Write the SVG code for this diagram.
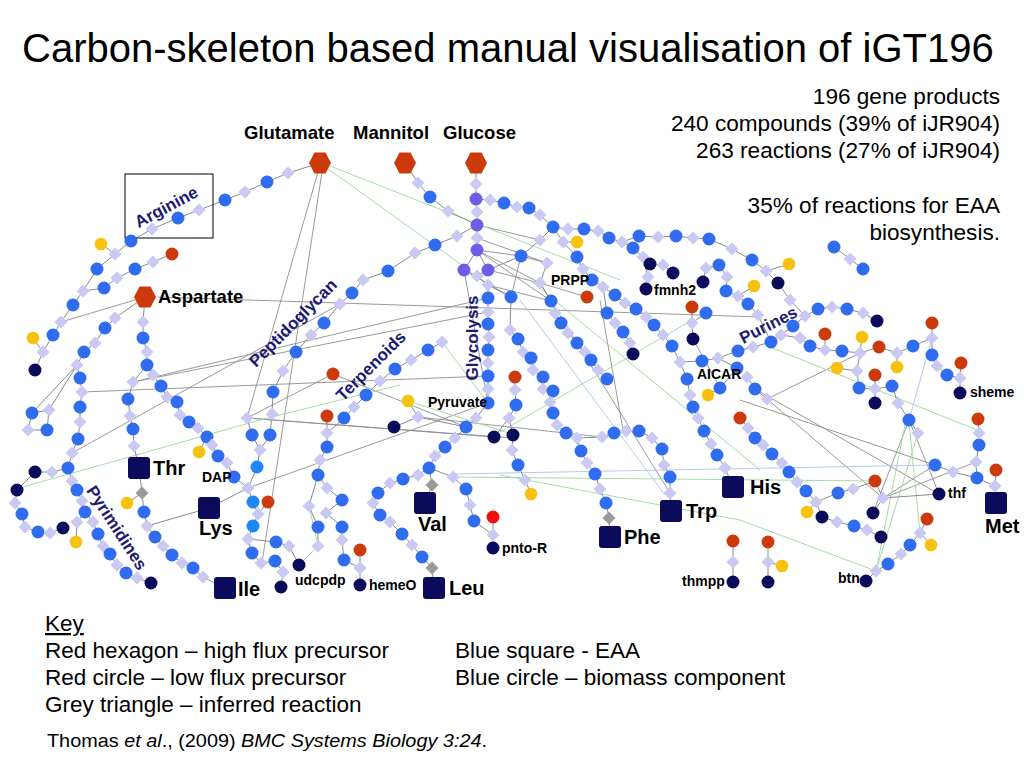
<svg xmlns="http://www.w3.org/2000/svg" xmlns:xlink="http://www.w3.org/1999/xlink" width="1024" height="768" viewBox="0 0 1024 768">
<style>
.c{fill:none;stroke:#8a8a8a;stroke-width:1}
.x{fill:none;stroke:#8f8f8f;stroke-width:0.9}
.gr{fill:none;stroke:#a6dba6;stroke-width:1}
.lb{fill:none;stroke:#b4c9ef;stroke-width:1}
.t{font-family:"Liberation Sans",Arial,sans-serif;fill:#000}
.lb1{font-family:"Liberation Sans",Arial,sans-serif;font-weight:bold;font-size:18.5px;fill:#000}
.aa{font-family:"Liberation Sans",Arial,sans-serif;font-weight:bold;font-size:20px;fill:#000}
.sm{font-family:"Liberation Sans",Arial,sans-serif;font-weight:bold;font-size:14px;fill:#000}
.pw{font-family:"Liberation Sans",Arial,sans-serif;font-weight:bold;font-size:17px;fill:#1b1b72;text-anchor:middle}
</style>
<defs>
<circle id="B" r="6.5" fill="#2f6cf0"/>
<circle id="L" r="6.5" fill="#1f86f6"/>
<circle id="N" r="6.5" fill="#0b0b5c"/>
<circle id="Y" r="6.3" fill="#f6c20e"/>
<circle id="R" r="6.5" fill="#cc3a0c"/>
<circle id="R2" r="6.5" fill="#f01010"/>
<circle id="P" r="6.5" fill="#6e5ee6"/>
<path id="D" d="M0-6.5L6.5 0 0 6.5-6.5 0Z" fill="#c9c9f4"/>
<path id="G" d="M0-6.5L6.5 0 0 6.5-6.5 0Z" fill="#9a9a9a"/>
<polygon id="H" points="-11,0 -5.5,-10.5 5.5,-10.5 11,0 5.5,10.5 -5.5,10.5" fill="#cc3a0c"/>
<rect id="S" x="-11" y="-11" width="22" height="22" rx="3" fill="#0b0b5c"/>
</defs>
<rect width="1024" height="768" fill="#fff"/>

<text class="t" x="22" y="62" font-size="40">Carbon-skeleton based manual visualisation of iGT196</text>
<g class="t" font-size="22.6" text-anchor="end">
<text x="1000" y="104">196 gene products</text>
<text x="1000" y="131">240 compounds (39% of iJR904)</text>
<text x="1000" y="158">263 reactions (27% of iJR904)</text>
<text x="1000" y="213">35% of reactions for EAA</text>
<text x="1000" y="240">biosynthesis.</text>
</g>

<g id="connectors">
<path class="x" d="M158 297L760 317M133 382L488 298M133 382L488 312M82 392L488 376M72 453L340 304M247 418L513 438M247 418L494 437M318 172L247 418M322 172L262 563M248 488L488 403M333 374L466 427M333 374L247 418M145 297L61 322M418 417L602 437M600 300L623 430M540 283L670 493M477 250L540 283M477 250L551 301M477 225L540 240M488 270L540 283M464 270L511 297M477 250L521 256M488 285L551 301M477 238L547 263M464 270L488 403M540 283L587 297M511 297L521 256M767 399L883 498M755 389L939 494M740 400L935 465M909 420L939 494M883 498L976 462M883 498L935 465M873 513L909 420M693 339L720 388M767 399L860 353"/>
<path class="gr" d="M327 168L466 268M330 166L620 280M23 487L260 420L400 385M453 477L875 481M500 475L740 520L876 571M770 347L977 430M909 422L920 533M905 425L876 571M918 433L876 571M442 342L488 403M500 432L687 323M530 280L760 470M408 401L515 435M318 546L299 565M309 506L318 546"/>
<path class="lb" d="M453 474L935 465M520 300L665 495M932 338L909 420"/>
<path class="c" d="M35 370L43 352L53 335L61 322L73 305L83 291L97 269L115 254L131 241L152 229L178 218L199 210L225 200L245 192L267 182L288 173L320 163M33 338L43 352M101 244L115 254M172 254L153 262L135 269L117 278L104 288L83 291"/>
<path class="c" d="M145 297L115 318L105 328L95 343L84 352L77 365L80 378L82 392L80 407L80 422L78 439L72 453L68 468L72 481L77 490L82 501L85 512L93 522L98 534L103 546L110 554L117 565L126 573L137 578L151 583M85 512L77 522L76 542M35 472L52 472L68 468M17 490L35 472M17 490L15 503L22 514L25 527L38 532L50 533L63 528M32 413L49 410L47 430L28 430ZM77 365L32 413M77 365L49 410"/>
<path class="c" d="M145 297L143 322L143 338L147 352L147 365L133 382L128 399L130 416L133 429L134 446L139 468L142 493L144 512L147 526L155 537L163 546L172 555L182 563L193 568L203 577L225 588M127 503L142 493"/>
<path class="c" d="M147 365L153 375L161 386L167 397L177 402L180 415L189 422L198 428L207 437L212 445L218 456L227 463L234 477L248 488M199 452L207 437M147 526L209 508L248 488"/>
<path class="c" d="M247 418L252 435L260 450L257 467L248 488L253 502L258 514L253 526L248 539L252 553L261 563L275 561L283 572L281 587M268 502L258 514M248 539L276 542L289 546L299 565"/>
<path class="c" d="M477 225L457 236L435 245L415 253L388 271L363 280L352 293L340 304L324 323L311 335L296 352L283 371L273 392L272 414L270 435L260 450"/>
<path class="c" d="M344 418L327 433L327 447L320 460L318 475L327 488L342 500L326 513L342 527L342 540L344 560L360 568L360 585M318 475L309 506L318 527L318 546M327 416L327 433M360 550L360 568"/>
<path class="c" d="M442 342L428 350L411 360L395 369L380 381L366 395L354 407L344 418M408 401L418 417L394 427M418 417L466 427"/>
<path class="c" d="M405 163L418 183L430 197L448 211L477 225M476 163L476 184L476 199L477 212L477 225L477 238L477 250L464 270L477 276L488 270L477 250M477 276L488 285L488 298L488 312L488 324L489 337L488 350L488 363L488 376L488 389L488 403L476 418L466 427L455 438L445 447L435 456L429 468L418 475L403 479L390 483L378 493L373 503L380 515L390 522L402 534L412 545L422 557L432 568L434 588M429 468L432 485L425 503M429 468L453 477L466 489L470 505L474 521L493 535L493 548M493 517L493 535"/>
<path class="c" d="M515 377L515 390L516 405L509 418L513 435L512 450L518 465L525 480L531 494M494 437L509 418"/>
<path class="c" d="M476 199L490 200L504 203L517 207L529 208L540 215L553 227L568 229L584 229L598 231L609 238L622 242L633 248L643 257L650 264L663 265L673 273M643 257L648 277L646 289M622 242L639 236L658 237L676 236L693 238L709 239L732 249L752 260L766 271L778 283M789 264L766 271"/>
<path class="c" d="M553 227L563 242L577 257L583 269L592 280L603 287L615 295L625 303L636 309L646 317L654 325L663 335L672 346L680 362L687 379L690 395L693 407L698 418L704 431L711 444L717 455L725 468L733 487M577 242L563 242M603 287L607 313L615 323L623 332L630 343L633 354"/>
<path class="c" d="M553 227L540 240L521 256M521 256L547 263L540 283L551 301M488 270L521 256M488 285L511 297L510 330L518 339L523 352L531 358L533 370L543 377L543 389L553 391L550 402L553 413L557 425L566 433L577 438L581 451L587 463L595 474L600 489L606 503L609 518L610 537M551 301L555 313L561 323L568 333L577 343L585 352L591 360L598 370L607 379M577 438L602 437L614 433L626 431L639 431L652 438L662 449L664 465L670 477L670 493L671 511"/>
<path class="c" d="M703 282L706 268L719 265L727 277L726 291L738 296L748 304L758 315M754 286L738 296M692 307L692 323L693 339M706 313L692 323"/>
<path class="c" d="M680 362L702 361L718 358L738 351L753 347L771 342L781 335L793 326L805 316L818 309L832 307L847 309L863 313L877 321M778 283L790 300L805 316M737 368L720 388L708 395M718 358L737 368M758 315L771 342"/>
<path class="c" d="M781 335L800 338L810 346L825 350L842 351L860 353L879 347L897 353L913 346L932 338L932 323M932 338L932 355L937 366L947 375L960 378L960 393M961 363L960 378M825 334L825 350M862 337L860 353M897 367L897 353"/>
<path class="c" d="M837 368L857 371L859 388L875 389L892 386L898 403L909 420L918 433M875 375L875 389L875 403M857 371L860 353"/>
<path class="c" d="M747 377L755 389L767 399M740 418L748 428L755 438L763 445L772 454L782 463L789 472L797 482L806 491L816 502L822 517L837 522L854 526L867 530L881 537M807 512L816 502M816 502L838 493L853 489L875 481L883 498L873 513M883 498L939 494"/>
<path class="c" d="M935 465L953 472L977 478L995 486L996 503M996 470L995 486M978 419L979 433L979 445L976 462L977 478"/>
<path class="c" d="M927 519L920 533L910 545L901 554L888 564L876 571L866 581M931 545L920 533M733 541L733 562L733 582M768 542L768 562L768 582M782 566L768 562M834 247L850 259L863 269"/>
</g>

<rect x="125" y="174" width="88" height="64" fill="none" stroke="#000" stroke-width="1"/>

<g id="nodes">
<g id="glutamate"><use href="#H" x="320" y="163"/></g>
<g id="mannitol"><use href="#H" x="405" y="163"/></g>
<g id="glucose"><use href="#H" x="476" y="163"/></g>
<g id="aspartate"><use href="#H" x="145" y="297"/></g>
<g id="thr"><use href="#S" x="139" y="468"/></g>
<g id="lys"><use href="#S" x="209" y="508"/></g>
<g id="ile"><use href="#S" x="225" y="588"/></g>
<g id="val"><use href="#S" x="425" y="503"/></g>
<g id="leu"><use href="#S" x="434" y="588"/></g>
<g id="phe"><use href="#S" x="610" y="537"/></g>
<g id="trp"><use href="#S" x="671" y="511"/></g>
<g id="his"><use href="#S" x="733" y="487"/></g>
<g id="met"><use href="#S" x="996" y="503"/></g>

<g id="n1"><use href="#N" x="35" y="370"/></g>
<g id="n2"><use href="#D" x="43" y="352"/></g>
<g id="n3"><use href="#B" x="53" y="335"/></g>
<g id="n4"><use href="#D" x="61" y="322"/></g>
<g id="n5"><use href="#B" x="73" y="305"/></g>
<g id="n6"><use href="#D" x="83" y="291"/></g>
<g id="n7"><use href="#B" x="97" y="269"/></g>
<g id="n8"><use href="#D" x="115" y="254"/></g>
<g id="n9"><use href="#B" x="131" y="241"/></g>
<g id="n10"><use href="#D" x="152" y="229"/></g>
<g id="n11"><use href="#B" x="178" y="218"/></g>
<g id="n12"><use href="#D" x="199" y="210"/></g>
<g id="n13"><use href="#B" x="225" y="200"/></g>
<g id="n14"><use href="#D" x="245" y="192"/></g>
<g id="n15"><use href="#B" x="267" y="182"/></g>
<g id="n16"><use href="#D" x="288" y="173"/></g>
<g id="n17"><use href="#Y" x="33" y="338"/></g>
<g id="n18"><use href="#Y" x="101" y="244"/></g>
<g id="n19"><use href="#R" x="172" y="254"/></g>
<g id="n20"><use href="#D" x="153" y="262"/></g>
<g id="n21"><use href="#B" x="135" y="269"/></g>
<g id="n22"><use href="#D" x="117" y="278"/></g>
<g id="n23"><use href="#B" x="104" y="288"/></g>
<g id="n24"><use href="#D" x="115" y="318"/></g>
<g id="n25"><use href="#B" x="105" y="328"/></g>
<g id="n26"><use href="#D" x="95" y="343"/></g>
<g id="n27"><use href="#B" x="84" y="352"/></g>
<g id="n28"><use href="#D" x="77" y="365"/></g>
<g id="n29"><use href="#B" x="80" y="378"/></g>
<g id="n30"><use href="#D" x="82" y="392"/></g>
<g id="n31"><use href="#B" x="80" y="407"/></g>
<g id="n32"><use href="#D" x="80" y="422"/></g>
<g id="n33"><use href="#B" x="78" y="439"/></g>
<g id="n34"><use href="#D" x="72" y="453"/></g>
<g id="n35"><use href="#B" x="68" y="468"/></g>
<g id="n36"><use href="#D" x="72" y="481"/></g>
<g id="n37"><use href="#B" x="77" y="490"/></g>
<g id="n38"><use href="#D" x="82" y="501"/></g>
<g id="n39"><use href="#B" x="85" y="512"/></g>
<g id="n40"><use href="#D" x="93" y="522"/></g>
<g id="n41"><use href="#B" x="98" y="534"/></g>
<g id="n42"><use href="#D" x="103" y="546"/></g>
<g id="n43"><use href="#B" x="110" y="554"/></g>
<g id="n44"><use href="#D" x="117" y="565"/></g>
<g id="n45"><use href="#B" x="126" y="573"/></g>
<g id="n46"><use href="#D" x="137" y="578"/></g>
<g id="n47"><use href="#N" x="151" y="583"/></g>
<g id="n48"><use href="#D" x="77" y="522"/></g>
<g id="n49"><use href="#Y" x="76" y="542"/></g>
<g id="n50"><use href="#N" x="35" y="472"/></g>
<g id="n51"><use href="#D" x="52" y="472"/></g>
<g id="n52"><use href="#N" x="17" y="490"/></g>
<g id="n53"><use href="#D" x="15" y="503"/></g>
<g id="n54"><use href="#B" x="22" y="514"/></g>
<g id="n55"><use href="#D" x="25" y="527"/></g>
<g id="n56"><use href="#B" x="38" y="532"/></g>
<g id="n57"><use href="#D" x="50" y="533"/></g>
<g id="n58"><use href="#N" x="63" y="528"/></g>
<g id="n59"><use href="#B" x="32" y="413"/></g>
<g id="n60"><use href="#D" x="49" y="410"/></g>
<g id="n61"><use href="#B" x="47" y="430"/></g>
<g id="n62"><use href="#D" x="28" y="430"/></g>
<g id="n63"><use href="#D" x="143" y="322"/></g>
<g id="n64"><use href="#B" x="143" y="338"/></g>
<g id="n65"><use href="#D" x="147" y="352"/></g>
<g id="n66"><use href="#B" x="147" y="365"/></g>
<g id="n67"><use href="#D" x="133" y="382"/></g>
<g id="n68"><use href="#B" x="128" y="399"/></g>
<g id="n69"><use href="#D" x="130" y="416"/></g>
<g id="n70"><use href="#B" x="133" y="429"/></g>
<g id="n71"><use href="#D" x="134" y="446"/></g>
<g id="n72"><use href="#G" x="142" y="493"/></g>
<g id="n73"><use href="#Y" x="127" y="503"/></g>
<g id="n74"><use href="#B" x="144" y="512"/></g>
<g id="n75"><use href="#D" x="147" y="526"/></g>
<g id="n76"><use href="#B" x="155" y="537"/></g>
<g id="n77"><use href="#D" x="163" y="546"/></g>
<g id="n78"><use href="#B" x="172" y="555"/></g>
<g id="n79"><use href="#D" x="182" y="563"/></g>
<g id="n80"><use href="#B" x="193" y="568"/></g>
<g id="n81"><use href="#D" x="203" y="577"/></g>
<g id="n82"><use href="#D" x="153" y="375"/></g>
<g id="n83"><use href="#B" x="161" y="386"/></g>
<g id="n84"><use href="#D" x="167" y="397"/></g>
<g id="n85"><use href="#B" x="177" y="402"/></g>
<g id="n86"><use href="#D" x="180" y="415"/></g>
<g id="n87"><use href="#B" x="189" y="422"/></g>
<g id="n88"><use href="#D" x="198" y="428"/></g>
<g id="n89"><use href="#B" x="207" y="437"/></g>
<g id="n90"><use href="#D" x="212" y="445"/></g>
<g id="n91"><use href="#B" x="218" y="456"/></g>
<g id="n92"><use href="#D" x="227" y="463"/></g>
<g id="n93"><use href="#B" x="234" y="477"/></g>
<g id="n94"><use href="#D" x="248" y="488"/></g>
<g id="n95"><use href="#Y" x="199" y="452"/></g>
<g id="n96"><use href="#D" x="247" y="418"/></g>
<g id="n97"><use href="#B" x="252" y="435"/></g>
<g id="n98"><use href="#D" x="260" y="450"/></g>
<g id="n99"><use href="#L" x="257" y="467"/></g>
<g id="n100"><use href="#L" x="253" y="502"/></g>
<g id="n101"><use href="#R" x="268" y="502"/></g>
<g id="n102"><use href="#D" x="258" y="514"/></g>
<g id="n103"><use href="#L" x="253" y="526"/></g>
<g id="n104"><use href="#D" x="248" y="539"/></g>
<g id="n105"><use href="#B" x="252" y="553"/></g>
<g id="n106"><use href="#D" x="261" y="563"/></g>
<g id="n107"><use href="#B" x="276" y="542"/></g>
<g id="n108"><use href="#D" x="289" y="546"/></g>
<g id="n109"><use href="#N" x="299" y="565"/></g>
<g id="n110"><use href="#B" x="275" y="561"/></g>
<g id="n111"><use href="#D" x="283" y="572"/></g>
<g id="n112"><use href="#N" x="281" y="587"/></g>
<g id="n113"><use href="#D" x="457" y="236"/></g>
<g id="n114"><use href="#B" x="435" y="245"/></g>
<g id="n115"><use href="#D" x="415" y="253"/></g>
<g id="n116"><use href="#B" x="388" y="271"/></g>
<g id="n117"><use href="#D" x="363" y="280"/></g>
<g id="n118"><use href="#B" x="352" y="293"/></g>
<g id="n119"><use href="#D" x="340" y="304"/></g>
<g id="n120"><use href="#B" x="324" y="323"/></g>
<g id="n121"><use href="#D" x="311" y="335"/></g>
<g id="n122"><use href="#B" x="296" y="352"/></g>
<g id="n123"><use href="#D" x="283" y="371"/></g>
<g id="n124"><use href="#B" x="273" y="392"/></g>
<g id="n125"><use href="#D" x="272" y="414"/></g>
<g id="n126"><use href="#B" x="270" y="435"/></g>
<g id="n127"><use href="#R" x="327" y="416"/></g>
<g id="n128"><use href="#D" x="327" y="433"/></g>
<g id="n129"><use href="#B" x="327" y="447"/></g>
<g id="n130"><use href="#D" x="320" y="460"/></g>
<g id="n131"><use href="#B" x="318" y="475"/></g>
<g id="n132"><use href="#D" x="327" y="488"/></g>
<g id="n133"><use href="#B" x="342" y="500"/></g>
<g id="n134"><use href="#D" x="309" y="506"/></g>
<g id="n135"><use href="#D" x="326" y="513"/></g>
<g id="n136"><use href="#B" x="318" y="527"/></g>
<g id="n137"><use href="#B" x="342" y="527"/></g>
<g id="n138"><use href="#D" x="318" y="546"/></g>
<g id="n139"><use href="#D" x="342" y="540"/></g>
<g id="n140"><use href="#B" x="344" y="560"/></g>
<g id="n141"><use href="#R" x="360" y="550"/></g>
<g id="n142"><use href="#D" x="360" y="568"/></g>
<g id="n143"><use href="#N" x="360" y="585"/></g>
<g id="n144"><use href="#D" x="442" y="342"/></g>
<g id="n145"><use href="#B" x="428" y="350"/></g>
<g id="n146"><use href="#D" x="411" y="360"/></g>
<g id="n147"><use href="#B" x="395" y="369"/></g>
<g id="n148"><use href="#D" x="380" y="381"/></g>
<g id="n149"><use href="#B" x="366" y="395"/></g>
<g id="n150"><use href="#D" x="354" y="407"/></g>
<g id="n151"><use href="#B" x="344" y="418"/></g>
<g id="n152"><use href="#R" x="333" y="374"/></g>
<g id="n153"><use href="#Y" x="408" y="401"/></g>
<g id="n154"><use href="#D" x="418" y="417"/></g>
<g id="n155"><use href="#N" x="394" y="427"/></g>
<g id="n156"><use href="#D" x="418" y="183"/></g>
<g id="n157"><use href="#B" x="430" y="197"/></g>
<g id="n158"><use href="#D" x="448" y="211"/></g>
<g id="n159"><use href="#D" x="476" y="184"/></g>
<g id="n160"><use href="#P" x="476" y="199"/></g>
<g id="n161"><use href="#D" x="477" y="212"/></g>
<g id="n162"><use href="#P" x="477" y="225"/></g>
<g id="n163"><use href="#D" x="477" y="238"/></g>
<g id="n164"><use href="#P" x="477" y="250"/></g>
<g id="n166"><use href="#P" x="464" y="270"/></g>
<g id="n167"><use href="#P" x="488" y="270"/></g>
<g id="n168"><use href="#D" x="477" y="276"/></g>
<g id="n169"><use href="#D" x="488" y="285"/></g>
<g id="n170"><use href="#B" x="488" y="298"/></g>
<g id="n171"><use href="#D" x="488" y="312"/></g>
<g id="n172"><use href="#B" x="488" y="324"/></g>
<g id="n173"><use href="#D" x="489" y="337"/></g>
<g id="n174"><use href="#B" x="488" y="350"/></g>
<g id="n175"><use href="#D" x="488" y="363"/></g>
<g id="n176"><use href="#B" x="488" y="376"/></g>
<g id="n177"><use href="#D" x="488" y="389"/></g>
<g id="n178"><use href="#B" x="488" y="403"/></g>
<g id="n179"><use href="#D" x="476" y="418"/></g>
<g id="n180"><use href="#B" x="466" y="427"/></g>
<g id="n181"><use href="#D" x="455" y="438"/></g>
<g id="n182"><use href="#B" x="445" y="447"/></g>
<g id="n183"><use href="#D" x="435" y="456"/></g>
<g id="n184"><use href="#B" x="429" y="468"/></g>
<g id="n185"><use href="#D" x="418" y="475"/></g>
<g id="n186"><use href="#B" x="403" y="479"/></g>
<g id="n187"><use href="#D" x="390" y="483"/></g>
<g id="n188"><use href="#B" x="378" y="493"/></g>
<g id="n189"><use href="#D" x="373" y="503"/></g>
<g id="n190"><use href="#B" x="380" y="515"/></g>
<g id="n191"><use href="#D" x="390" y="522"/></g>
<g id="n192"><use href="#B" x="402" y="534"/></g>
<g id="n193"><use href="#D" x="412" y="545"/></g>
<g id="n194"><use href="#B" x="422" y="557"/></g>
<g id="n195"><use href="#G" x="432" y="568"/></g>
<g id="n196"><use href="#G" x="432" y="485"/></g>
<g id="n197"><use href="#D" x="453" y="477"/></g>
<g id="n198"><use href="#B" x="466" y="489"/></g>
<g id="n199"><use href="#D" x="470" y="505"/></g>
<g id="n200"><use href="#B" x="474" y="521"/></g>
<g id="n201"><use href="#R2" x="493" y="517"/></g>
<g id="n202"><use href="#D" x="493" y="535"/></g>
<g id="n203"><use href="#N" x="493" y="548"/></g>
<g id="n204"><use href="#N" x="494" y="437"/></g>
<g id="n205"><use href="#N" x="513" y="435"/></g>
<g id="n206"><use href="#R" x="515" y="377"/></g>
<g id="n207"><use href="#D" x="515" y="390"/></g>
<g id="n208"><use href="#B" x="516" y="405"/></g>
<g id="n209"><use href="#D" x="509" y="418"/></g>
<g id="n210"><use href="#D" x="512" y="450"/></g>
<g id="n211"><use href="#B" x="518" y="465"/></g>
<g id="n212"><use href="#D" x="525" y="480"/></g>
<g id="n213"><use href="#Y" x="531" y="494"/></g>
<g id="n214"><use href="#D" x="490" y="200"/></g>
<g id="n215"><use href="#B" x="504" y="203"/></g>
<g id="n216"><use href="#D" x="517" y="207"/></g>
<g id="n217"><use href="#B" x="529" y="208"/></g>
<g id="n218"><use href="#D" x="540" y="215"/></g>
<g id="n219"><use href="#B" x="553" y="227"/></g>
<g id="n220"><use href="#D" x="568" y="229"/></g>
<g id="n221"><use href="#B" x="584" y="229"/></g>
<g id="n222"><use href="#D" x="598" y="231"/></g>
<g id="n223"><use href="#B" x="609" y="238"/></g>
<g id="n224"><use href="#D" x="622" y="242"/></g>
<g id="n225"><use href="#B" x="633" y="248"/></g>
<g id="n226"><use href="#D" x="643" y="257"/></g>
<g id="n227"><use href="#N" x="650" y="264"/></g>
<g id="n228"><use href="#D" x="663" y="265"/></g>
<g id="n229"><use href="#N" x="673" y="273"/></g>
<g id="n230"><use href="#D" x="648" y="277"/></g>
<g id="n231"><use href="#N" x="646" y="289"/></g>
<g id="n232"><use href="#B" x="639" y="236"/></g>
<g id="n233"><use href="#D" x="658" y="237"/></g>
<g id="n234"><use href="#B" x="676" y="236"/></g>
<g id="n235"><use href="#D" x="693" y="238"/></g>
<g id="n236"><use href="#B" x="709" y="239"/></g>
<g id="n237"><use href="#D" x="732" y="249"/></g>
<g id="n238"><use href="#B" x="752" y="260"/></g>
<g id="n239"><use href="#D" x="766" y="271"/></g>
<g id="n240"><use href="#Y" x="789" y="264"/></g>
<g id="n241"><use href="#N" x="778" y="283"/></g>
<g id="n242"><use href="#Y" x="577" y="242"/></g>
<g id="n243"><use href="#D" x="563" y="242"/></g>
<g id="n244"><use href="#B" x="577" y="257"/></g>
<g id="n245"><use href="#D" x="583" y="269"/></g>
<g id="n246"><use href="#B" x="592" y="280"/></g>
<g id="n247"><use href="#D" x="603" y="287"/></g>
<g id="n248"><use href="#B" x="615" y="295"/></g>
<g id="n249"><use href="#D" x="625" y="303"/></g>
<g id="n250"><use href="#B" x="636" y="309"/></g>
<g id="n251"><use href="#D" x="646" y="317"/></g>
<g id="n252"><use href="#B" x="654" y="325"/></g>
<g id="n253"><use href="#D" x="663" y="335"/></g>
<g id="n254"><use href="#B" x="672" y="346"/></g>
<g id="n255"><use href="#D" x="680" y="362"/></g>
<g id="n256"><use href="#B" x="687" y="379"/></g>
<g id="n257"><use href="#D" x="690" y="395"/></g>
<g id="n258"><use href="#B" x="693" y="407"/></g>
<g id="n259"><use href="#D" x="698" y="418"/></g>
<g id="n260"><use href="#B" x="704" y="431"/></g>
<g id="n261"><use href="#D" x="711" y="444"/></g>
<g id="n262"><use href="#B" x="717" y="455"/></g>
<g id="n263"><use href="#D" x="725" y="468"/></g>
<g id="n264"><use href="#R" x="587" y="297"/></g>
<g id="n265"><use href="#B" x="607" y="313"/></g>
<g id="n266"><use href="#D" x="615" y="323"/></g>
<g id="n267"><use href="#B" x="623" y="332"/></g>
<g id="n268"><use href="#D" x="630" y="343"/></g>
<g id="n269"><use href="#N" x="633" y="354"/></g>
<g id="n270"><use href="#D" x="540" y="240"/></g>
<g id="n271"><use href="#B" x="521" y="256"/></g>
<g id="n272"><use href="#D" x="547" y="263"/></g>
<g id="n274"><use href="#D" x="540" y="283"/></g>
<g id="n275"><use href="#B" x="551" y="301"/></g>
<g id="n276"><use href="#B" x="511" y="297"/></g>
<g id="n277"><use href="#D" x="510" y="330"/></g>
<g id="n278"><use href="#B" x="518" y="339"/></g>
<g id="n279"><use href="#D" x="523" y="352"/></g>
<g id="n280"><use href="#B" x="531" y="358"/></g>
<g id="n281"><use href="#D" x="533" y="370"/></g>
<g id="n282"><use href="#B" x="543" y="377"/></g>
<g id="n283"><use href="#D" x="543" y="389"/></g>
<g id="n284"><use href="#B" x="553" y="391"/></g>
<g id="n285"><use href="#D" x="550" y="402"/></g>
<g id="n286"><use href="#B" x="553" y="413"/></g>
<g id="n287"><use href="#D" x="557" y="425"/></g>
<g id="n288"><use href="#B" x="566" y="433"/></g>
<g id="n289"><use href="#D" x="577" y="438"/></g>
<g id="n290"><use href="#B" x="581" y="451"/></g>
<g id="n291"><use href="#D" x="587" y="463"/></g>
<g id="n292"><use href="#B" x="595" y="474"/></g>
<g id="n293"><use href="#D" x="600" y="489"/></g>
<g id="n294"><use href="#B" x="606" y="503"/></g>
<g id="n295"><use href="#G" x="609" y="518"/></g>
<g id="n297"><use href="#D" x="555" y="313"/></g>
<g id="n298"><use href="#B" x="561" y="323"/></g>
<g id="n299"><use href="#D" x="568" y="333"/></g>
<g id="n300"><use href="#B" x="577" y="343"/></g>
<g id="n301"><use href="#D" x="585" y="352"/></g>
<g id="n302"><use href="#B" x="591" y="360"/></g>
<g id="n303"><use href="#D" x="598" y="370"/></g>
<g id="n304"><use href="#B" x="607" y="379"/></g>
<g id="n305"><use href="#D" x="602" y="437"/></g>
<g id="n306"><use href="#B" x="614" y="433"/></g>
<g id="n307"><use href="#D" x="626" y="431"/></g>
<g id="n308"><use href="#B" x="639" y="431"/></g>
<g id="n309"><use href="#D" x="652" y="438"/></g>
<g id="n310"><use href="#B" x="662" y="449"/></g>
<g id="n311"><use href="#D" x="664" y="465"/></g>
<g id="n312"><use href="#B" x="670" y="477"/></g>
<g id="n313"><use href="#D" x="670" y="493"/></g>
<g id="n314"><use href="#N" x="703" y="282"/></g>
<g id="n315"><use href="#D" x="706" y="268"/></g>
<g id="n316"><use href="#B" x="719" y="265"/></g>
<g id="n317"><use href="#D" x="727" y="277"/></g>
<g id="n318"><use href="#B" x="726" y="291"/></g>
<g id="n319"><use href="#D" x="738" y="296"/></g>
<g id="n320"><use href="#Y" x="754" y="286"/></g>
<g id="n321"><use href="#B" x="748" y="304"/></g>
<g id="n322"><use href="#D" x="758" y="315"/></g>
<g id="n323"><use href="#R" x="692" y="307"/></g>
<g id="n324"><use href="#B" x="706" y="313"/></g>
<g id="n325"><use href="#D" x="692" y="323"/></g>
<g id="n326"><use href="#N" x="693" y="339"/></g>
<g id="n327"><use href="#B" x="702" y="361"/></g>
<g id="n328"><use href="#D" x="718" y="358"/></g>
<g id="n329"><use href="#B" x="738" y="351"/></g>
<g id="n330"><use href="#B" x="737" y="368"/></g>
<g id="n331"><use href="#B" x="720" y="388"/></g>
<g id="n332"><use href="#Y" x="708" y="395"/></g>
<g id="n333"><use href="#D" x="753" y="347"/></g>
<g id="n334"><use href="#B" x="771" y="342"/></g>
<g id="n335"><use href="#D" x="781" y="335"/></g>
<g id="n336"><use href="#B" x="793" y="326"/></g>
<g id="n337"><use href="#D" x="805" y="316"/></g>
<g id="n338"><use href="#B" x="818" y="309"/></g>
<g id="n339"><use href="#D" x="832" y="307"/></g>
<g id="n340"><use href="#B" x="847" y="309"/></g>
<g id="n341"><use href="#D" x="863" y="313"/></g>
<g id="n342"><use href="#N" x="877" y="321"/></g>
<g id="n343"><use href="#D" x="790" y="300"/></g>
<g id="n344"><use href="#D" x="800" y="338"/></g>
<g id="n345"><use href="#B" x="810" y="346"/></g>
<g id="n346"><use href="#D" x="825" y="350"/></g>
<g id="n347"><use href="#R" x="825" y="334"/></g>
<g id="n348"><use href="#B" x="842" y="351"/></g>
<g id="n349"><use href="#D" x="860" y="353"/></g>
<g id="n350"><use href="#Y" x="862" y="337"/></g>
<g id="n351"><use href="#R" x="879" y="347"/></g>
<g id="n352"><use href="#D" x="897" y="353"/></g>
<g id="n353"><use href="#B" x="913" y="346"/></g>
<g id="n354"><use href="#D" x="932" y="338"/></g>
<g id="n355"><use href="#R" x="932" y="323"/></g>
<g id="n356"><use href="#B" x="932" y="355"/></g>
<g id="n357"><use href="#D" x="937" y="366"/></g>
<g id="n358"><use href="#B" x="947" y="375"/></g>
<g id="n359"><use href="#D" x="960" y="378"/></g>
<g id="n360"><use href="#R" x="961" y="363"/></g>
<g id="n361"><use href="#N" x="960" y="393"/></g>
<g id="n362"><use href="#Y" x="897" y="367"/></g>
<g id="n363"><use href="#Y" x="837" y="368"/></g>
<g id="n364"><use href="#D" x="857" y="371"/></g>
<g id="n365"><use href="#B" x="859" y="388"/></g>
<g id="n366"><use href="#D" x="875" y="389"/></g>
<g id="n367"><use href="#R" x="875" y="375"/></g>
<g id="n368"><use href="#N" x="875" y="403"/></g>
<g id="n369"><use href="#B" x="892" y="386"/></g>
<g id="n370"><use href="#D" x="898" y="403"/></g>
<g id="n371"><use href="#B" x="909" y="420"/></g>
<g id="n372"><use href="#D" x="918" y="433"/></g>
<g id="n373"><use href="#D" x="747" y="377"/></g>
<g id="n374"><use href="#B" x="755" y="389"/></g>
<g id="n375"><use href="#D" x="767" y="399"/></g>
<g id="n376"><use href="#R" x="740" y="418"/></g>
<g id="n377"><use href="#D" x="748" y="428"/></g>
<g id="n378"><use href="#B" x="755" y="438"/></g>
<g id="n379"><use href="#D" x="763" y="445"/></g>
<g id="n380"><use href="#B" x="772" y="454"/></g>
<g id="n381"><use href="#D" x="782" y="463"/></g>
<g id="n382"><use href="#B" x="789" y="472"/></g>
<g id="n383"><use href="#D" x="797" y="482"/></g>
<g id="n384"><use href="#B" x="806" y="491"/></g>
<g id="n385"><use href="#D" x="816" y="502"/></g>
<g id="n386"><use href="#N" x="822" y="517"/></g>
<g id="n387"><use href="#Y" x="807" y="512"/></g>
<g id="n388"><use href="#D" x="837" y="522"/></g>
<g id="n389"><use href="#B" x="854" y="526"/></g>
<g id="n390"><use href="#D" x="867" y="530"/></g>
<g id="n391"><use href="#N" x="881" y="537"/></g>
<g id="n392"><use href="#B" x="838" y="493"/></g>
<g id="n393"><use href="#D" x="853" y="489"/></g>
<g id="n394"><use href="#R" x="875" y="481"/></g>
<g id="n395"><use href="#D" x="883" y="498"/></g>
<g id="n396"><use href="#N" x="873" y="513"/></g>
<g id="n397"><use href="#N" x="939" y="494"/></g>
<g id="n398"><use href="#B" x="935" y="465"/></g>
<g id="n399"><use href="#D" x="953" y="472"/></g>
<g id="n400"><use href="#B" x="977" y="478"/></g>
<g id="n401"><use href="#D" x="995" y="486"/></g>
<g id="n402"><use href="#R" x="996" y="470"/></g>
<g id="n403"><use href="#D" x="976" y="462"/></g>
<g id="n404"><use href="#B" x="979" y="445"/></g>
<g id="n405"><use href="#D" x="979" y="433"/></g>
<g id="n406"><use href="#R" x="978" y="419"/></g>
<g id="n407"><use href="#R" x="927" y="519"/></g>
<g id="n408"><use href="#D" x="920" y="533"/></g>
<g id="n409"><use href="#Y" x="931" y="545"/></g>
<g id="n410"><use href="#B" x="910" y="545"/></g>
<g id="n411"><use href="#D" x="901" y="554"/></g>
<g id="n412"><use href="#B" x="888" y="564"/></g>
<g id="n413"><use href="#D" x="876" y="571"/></g>
<g id="n414"><use href="#N" x="866" y="581"/></g>
<g id="n415"><use href="#R" x="733" y="541"/></g>
<g id="n416"><use href="#D" x="733" y="562"/></g>
<g id="n417"><use href="#N" x="733" y="582"/></g>
<g id="n418"><use href="#R" x="768" y="542"/></g>
<g id="n419"><use href="#D" x="768" y="562"/></g>
<g id="n420"><use href="#Y" x="782" y="566"/></g>
<g id="n421"><use href="#N" x="768" y="582"/></g>
<g id="n422"><use href="#B" x="834" y="247"/></g>
<g id="n423"><use href="#D" x="850" y="259"/></g>
<g id="n424"><use href="#B" x="863" y="269"/></g>
</g>

<g id="labels">
<text class="lb1" x="244" y="139">Glutamate</text>
<text class="lb1" x="353" y="139">Mannitol</text>
<text class="lb1" x="443" y="139">Glucose</text>
<text class="lb1" x="158" y="303">Aspartate</text>
<text class="aa" x="153" y="475">Thr</text>
<text class="aa" x="199" y="535">Lys</text>
<text class="aa" x="238" y="596">Ile</text>
<text class="aa" x="418" y="531">Val</text>
<text class="aa" x="449" y="595">Leu</text>
<text class="aa" x="624" y="544">Phe</text>
<text class="aa" x="686" y="518">Trp</text>
<text class="aa" x="750" y="494">His</text>
<text class="aa" x="985" y="533">Met</text>
<text class="sm" x="202" y="482" font-size="12.5">DAP</text>
<text class="sm" x="551" y="285" font-size="12.5">PRPP</text>
<text class="sm" x="654" y="295">fmnh2</text>
<text class="sm" x="697" y="379" font-size="12.5">AICAR</text>
<text class="sm" x="428" y="407" font-size="12.5">Pyruvate</text>
<text class="sm" x="970" y="397">sheme</text>
<text class="sm" x="948" y="498">thf</text>
<text class="sm" x="838" y="583">btn</text>
<text class="sm" x="682" y="586">thmpp</text>
<text class="sm" x="502" y="553">pnto-R</text>
<text class="sm" x="295" y="585">udcpdp</text>
<text class="sm" x="369" y="590">hemeO</text>
<text class="pw" font-size="14.5" transform="translate(169,212) rotate(-28)">Arginine</text>
<text class="pw" transform="translate(297,327) rotate(-45)">Peptidoglycan</text>
<text class="pw" transform="translate(375,370) rotate(-45)">Terpenoids</text>
<text class="pw" font-size="13.5" transform="translate(478,338) rotate(-90)">Glycolysis</text>
<text class="pw" transform="translate(771,330) rotate(-27)">Purines</text>
<text class="pw" transform="translate(112,531) rotate(57)">Pyrimidines</text>
</g>

<g id="key" class="t" font-size="22.5">
<text x="45" y="631" text-decoration="underline">Key</text>
<text x="45" y="658">Red hexagon – high flux precursor</text>
<text x="45" y="685">Red circle – low flux precursor</text>
<text x="45" y="712">Grey triangle – inferred reaction</text>
<text x="455" y="658">Blue square - EAA</text>
<text x="455" y="685">Blue circle – biomass component</text>
</g>
<text class="t" x="47" y="747" font-size="18.5" textLength="440" lengthAdjust="spacingAndGlyphs">Thomas <tspan font-style="italic">et al</tspan>., (2009) <tspan font-style="italic">BMC Systems Biology 3:24</tspan>.</text>
</svg>
